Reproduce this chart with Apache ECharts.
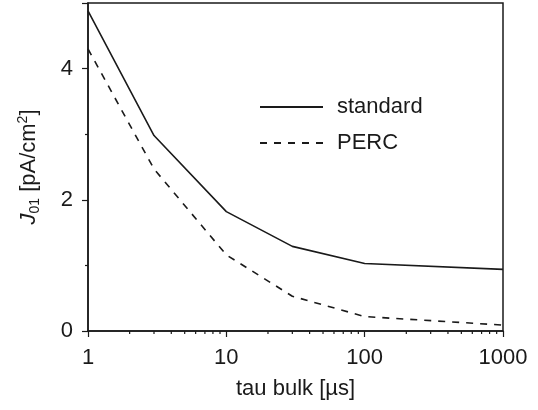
<!DOCTYPE html>
<html>
<head>
<meta charset="utf-8">
<script src="https://cdn.jsdelivr.net/npm/echarts@6/dist/echarts.min.js"></script>
<style>
    html, body { margin: 0; padding: 0; background: #fff; }
    #chart { width: 538px; height: 410px; }
</style>
</head>
<body>
<div id="chart"></div>
<script>
// tau bulk [us] and J01 values
var tau = [1, 3, 10, 30, 100, 1000]
var standard = [4.88, 2.98, 1.82, 1.29, 1.03, 0.94]
var perc = [4.3, 2.47, 1.16, 0.53, 0.22, 0.09]
var minorTicks = [2, 3, 4, 5, 6, 7, 8, 9, 20, 30, 40, 50, 60, 70, 80, 90, 200, 300, 400, 500, 600, 700, 800, 900]

var ink = '#1a1a1a'
var font = 'Liberation Sans'

function pairs(xs, ys) {
    return xs.map(function (x, i) { return [x, ys[i]] })
}

var chart = echarts.init(document.getElementById('chart'))

var option = {
    animation: false,
    grid: {
        left: 88, right: 35, top: 3, bottom: 79,
        show: true, borderColor: ink, borderWidth: 1.5
    },
    legend: {
        data: ['standard', 'PERC'],
        orient: 'vertical',
        left: 254, top: 91,
        itemWidth: 63, itemHeight: 14,
        itemGap: 14,
        itemStyle: { opacity: 0 },
        textStyle: { fontSize: 22, color: ink, fontFamily: font, padding: [0, 0, 0, 9] }
    },
    xAxis: {
        type: 'log',
        logBase: 10,
        min: 1, max: 1000,
        name: 'tau bulk [µs]',
        nameLocation: 'middle',
        nameGap: 47,
        nameTextStyle: { fontSize: 22, color: ink, fontFamily: font },
        axisLine: { lineStyle: { color: ink, width: 1.5 } },
        axisTick: { inside: false, length: 6, lineStyle: { color: ink, width: 1.2 } },
        axisLabel: {
            fontSize: 22, color: ink, fontFamily: font, margin: 16,
            formatter: function (v) { return String(v) }
        },
        splitLine: { show: false }
    },
    yAxis: {
        type: 'value',
        min: 0, max: 5, interval: 2,
        name: '{i|J}{sub|01} [pA/cm{sup|2}]',
        nameLocation: 'middle',
        nameGap: 46,
        nameTextStyle: {
            fontSize: 22, color: ink, fontFamily: font, lineHeight: 26,
            rich: {
                i: { fontSize: 22, fontStyle: 'italic', fontFamily: font, color: ink, lineHeight: 26 },
                sub: { fontSize: 14, fontFamily: font, color: ink, verticalAlign: 'bottom', lineHeight: 12 },
                sup: { fontSize: 14, fontFamily: font, color: ink, verticalAlign: 'top', lineHeight: 12 }
            }
        },
        axisLine: { show: true, lineStyle: { color: ink, width: 1.5 } },
        axisTick: { show: true, length: 6, lineStyle: { color: ink, width: 1.2 } },
        minorTick: { show: true, splitNumber: 2, length: 3, lineStyle: { color: ink, width: 1.2 } },
        axisLabel: {
            fontSize: 22, color: ink, fontFamily: font, margin: 15,
            formatter: function (v) { return v % 2 === 0 ? String(v) : '' }
        },
        splitLine: { show: false }
    },
    series: [
        {
            name: 'standard',
            type: 'line',
            data: pairs(tau, standard),
            symbol: 'none',
            lineStyle: { color: ink, width: 1.6, type: 'solid' },
            itemStyle: { color: ink }
        },
        {
            name: 'PERC',
            type: 'line',
            data: pairs(tau, perc),
            symbol: 'none',
            lineStyle: { color: ink, width: 1.6, type: [7, 7] },
            itemStyle: { color: ink }
        },
        {
            name: 'minor',
            type: 'custom',
            clip: false,
            silent: true,
            data: minorTicks.map(function (v) { return [v, 0] }),
            encode: { x: 0, y: 1 },
            renderItem: function (params, api) {
                var p = api.coord([api.value(0), 0])
                return {
                    type: 'line',
                    shape: { x1: p[0], y1: p[1], x2: p[0], y2: p[1] + 3 },
                    style: { stroke: ink, lineWidth: 1.2 }
                }
            }
        }
    ]
}

chart.setOption(option)
</script>
</body>
</html>
